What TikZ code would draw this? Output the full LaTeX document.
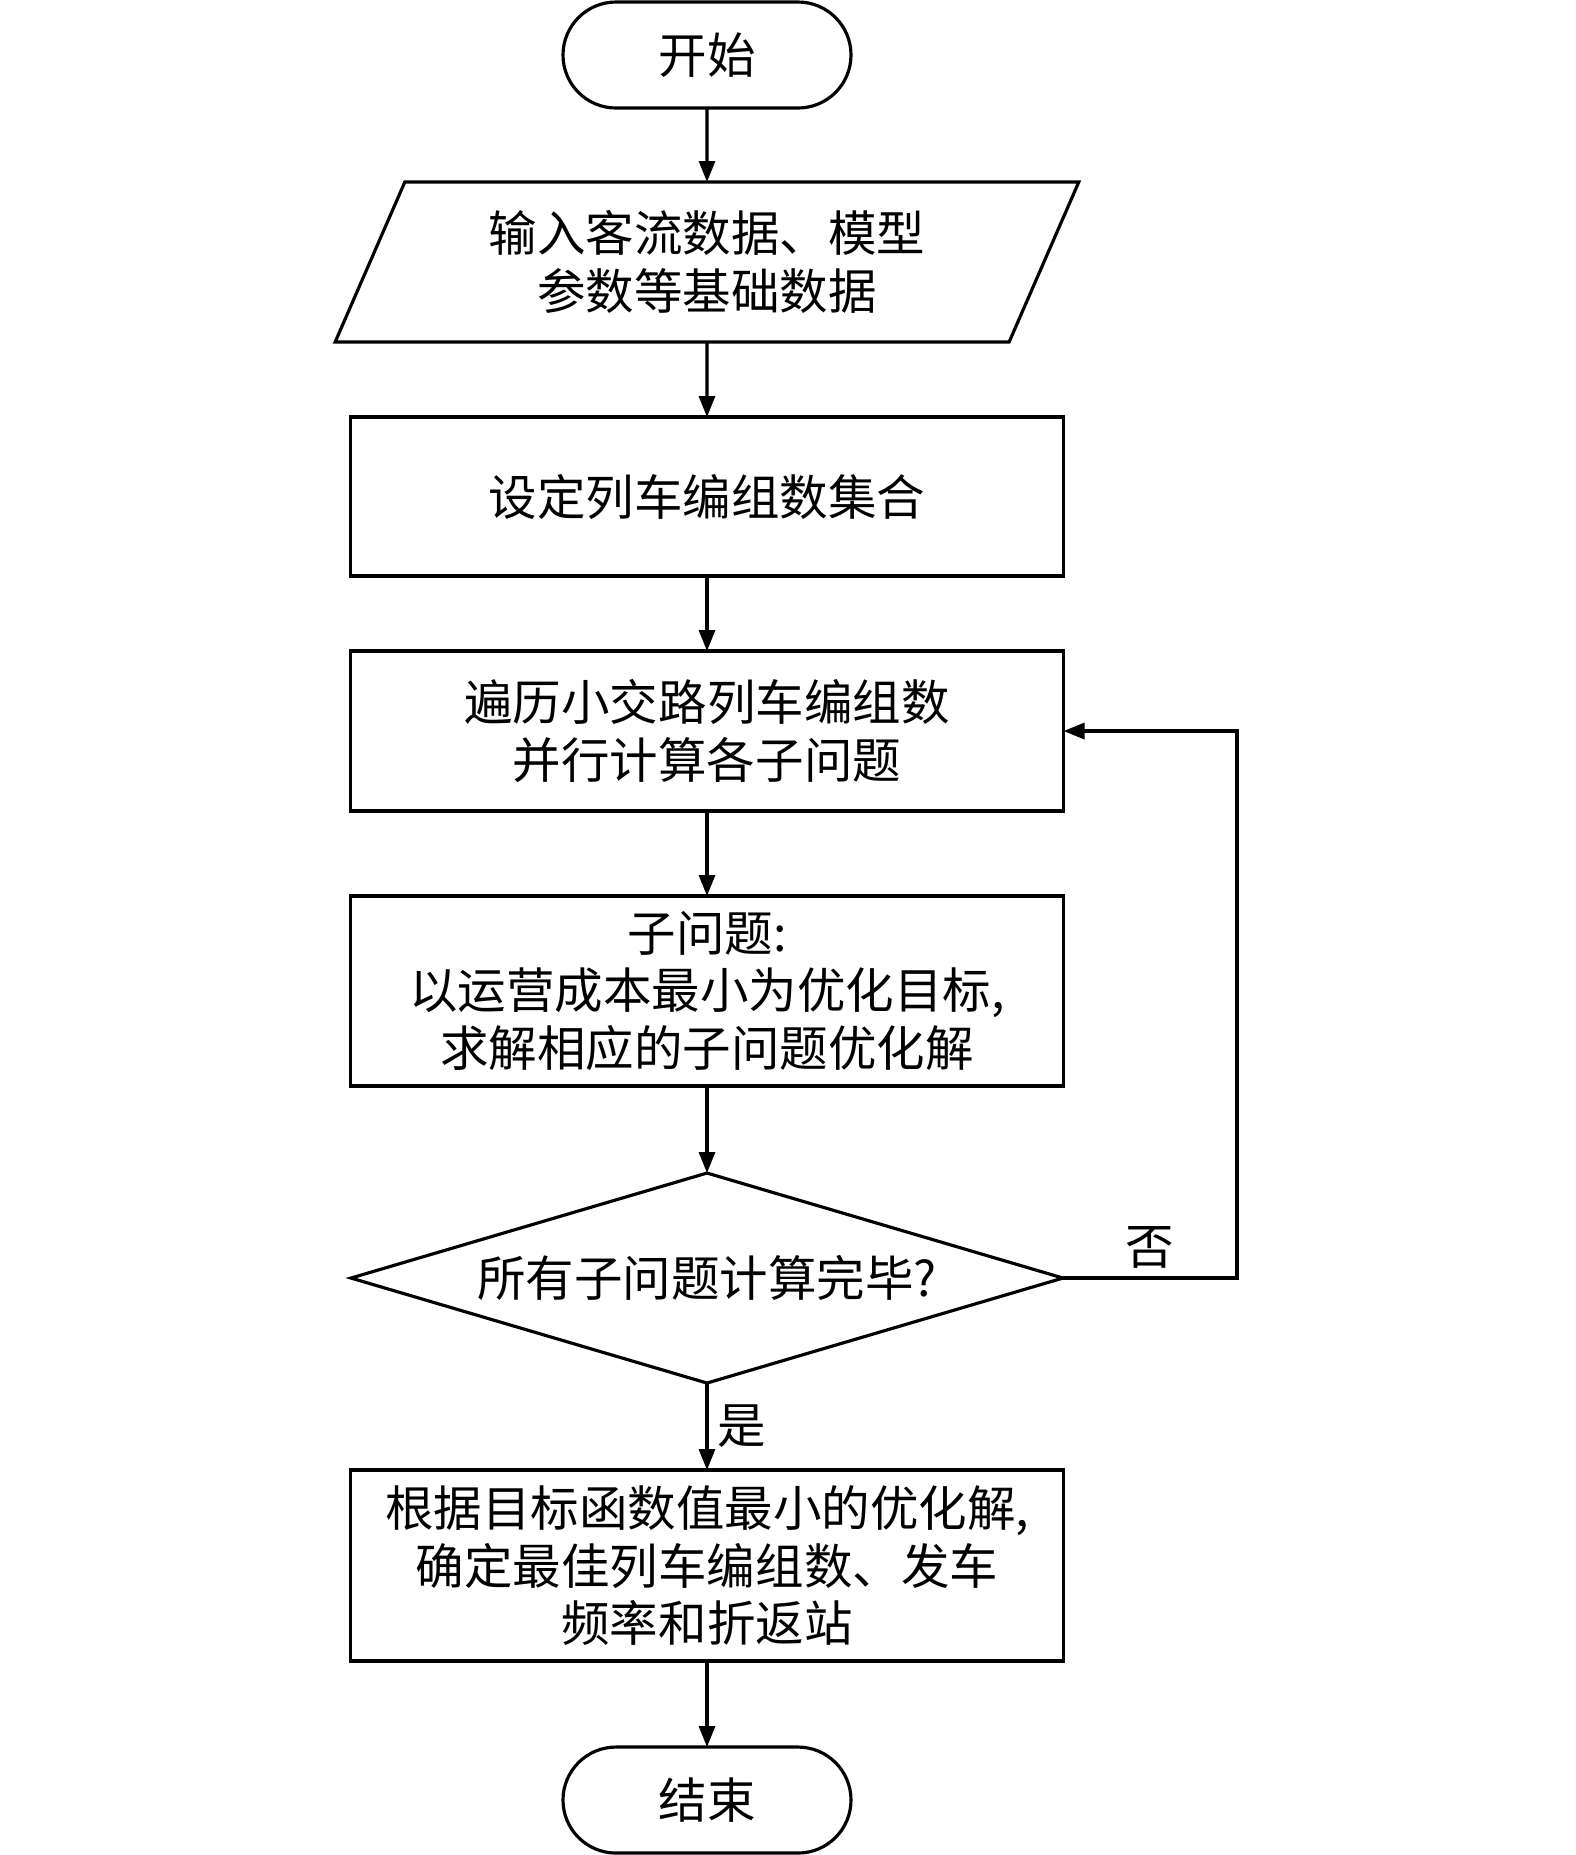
\documentclass[tikz,border=0pt]{standalone}
\usepackage{fontspec}
\setmainfont{Noto Sans CJK SC}
\usetikzlibrary{positioning, shapes.geometric, arrows.meta}

\tikzset{
  base/.style={draw, line width=0.9pt, align=center, inner sep=0pt, outer sep=0pt,
    font=\fontsize{13.8pt}{16.5pt}\selectfont},
  terminal/.style={base, rectangle, rounded corners=0.53cm,
    minimum width=2.88cm, minimum height=1.06cm},
  io/.style={base, trapezium, trapezium left angle=64, trapezium right angle=116,
    trapezium stretches=true, minimum width=7.45cm, minimum height=1.6cm},
  process/.style={base, rectangle, minimum width=7.13cm, minimum height=1.6cm},
  decision/.style={base, diamond, aspect=3.39, minimum width=7.12cm, minimum height=2.1cm},
  flow/.style={line width=0.9pt, -{Triangle[length=0.21cm, width=0.16cm]}},
  tag/.style={inner sep=0pt, font=\fontsize{13.8pt}{16.5pt}\selectfont},
}

\begin{document}
\begin{tikzpicture}
\useasboundingbox (0,0) rectangle (15.75,-18.55);

\node[terminal] (start) at (7.07,-0.55) {开始};
\node[io, below=0.74 of start] (input) {输入客流数据、模型\\参数等基础数据};
\node[process, below=0.75 of input, minimum height=1.59cm] (set) {设定列车编组数集合};
\node[process, below=0.75 of set] (traverse) {遍历小交路列车编组数\\并行计算各子问题};
\node[process, below=0.85 of traverse, minimum height=1.9cm] (sub) {子问题:\\以运营成本最小为优化目标,\\求解相应的子问题优化解};
\node[decision, below=0.87 of sub] (check) {所有子问题计算完毕?};
\node[process, below=0.87 of check, minimum height=1.91cm] (best) {根据目标函数值最小的优化解,\\确定最佳列车编组数、发车\\频率和折返站};
\node[terminal, below=0.86 of best] (stop) {结束};

\coordinate (loopx) at (12.37,0);

\draw[flow] (start) -- (input);
\draw[flow] (input) -- (set);
\draw[flow] (set) -- (traverse);
\draw[flow] (traverse) -- (sub);
\draw[flow] (sub) -- (check);
\draw[flow] (check) -- node[tag, right=0.09cm] (yes) {是} (best);
\draw[flow] (best) -- (stop);

% back to the loop when not all done
\draw[flow] (check.east) -- node[tag, above=0.08cm] (no) {否} (check.east -| loopx)
  |- (traverse.east);

\end{tikzpicture}
\end{document}
